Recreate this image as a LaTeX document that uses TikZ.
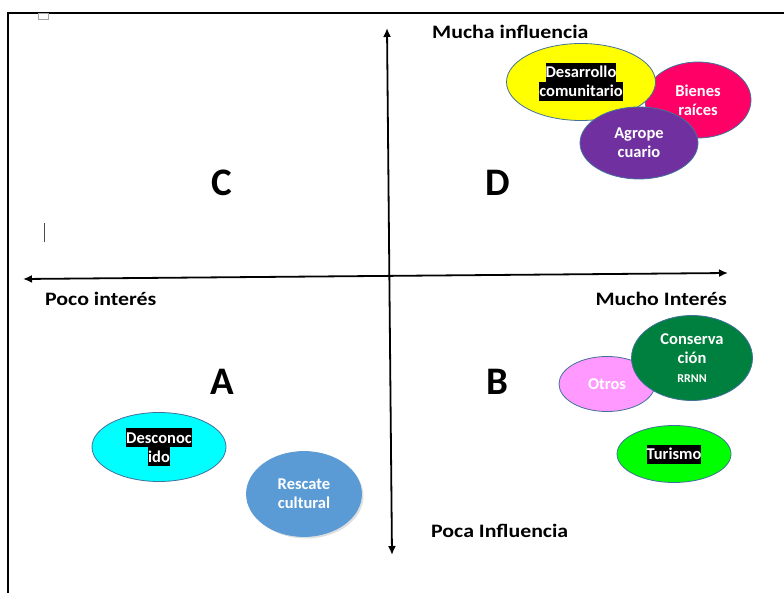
\documentclass[tikz,border=0pt]{standalone}
\usepackage{fontspec}
\setmainfont{Carlito}
\newfontfamily\ancha{Carlito}[FakeStretch=1.15]
\usetikzlibrary{arrows.meta,
                positioning,
                shadows,
                shapes.geometric
            }

\definecolor{borde}{HTML}{41719C}
\definecolor{amarillo}{HTML}{FFFF00}
\definecolor{fucsia}{HTML}{FF0066}
\definecolor{morado}{HTML}{7030A0}
\definecolor{rosa}{HTML}{FF99FF}
\definecolor{verdeosc}{HTML}{00803E}
\definecolor{verde}{HTML}{00FF00}
\definecolor{cian}{HTML}{00FFFF}
\definecolor{azul}{HTML}{5B9BD5}

\newcommand{\negro}[1]{{\setlength{\fboxsep}{0pt}\colorbox{black}{\rule[-4pt]{0pt}{19pt}#1}}}

\tikzset{
    actor/.style={ellipse, draw=borde, line width=0.8pt, inner sep=0pt,
                  text=white, align=center,
                  font=\fontsize{16.5}{19}\selectfont\bfseries},
    eje/.style={line width=1.8pt, {Latex[length=9pt,width=8pt]}-{Latex[length=9pt,width=8pt]}},
    eti/.style={font=\ancha\fontsize{19}{22}\selectfont\bfseries, inner sep=0pt},
    letra/.style={font=\fontsize{39}{40}\selectfont\bfseries, inner sep=0pt}
}

\begin{document}
\begin{tikzpicture}[x=1pt, y=-1pt]
            \useasboundingbox (0,0) rectangle (784,593);
            % marco
            \draw[line width=2pt] (8,593) -- (8,13) -- (784,13);
            \draw[gray!70, line width=0.8pt] (38,13) rectangle (48,19);
            \draw[black!70, line width=0.8pt] (44,223) -- (44,242);

            % ejes
            \coordinate (arriba) at (387,28);
            \coordinate (abajo) at (392,555);
            \coordinate (izq) at (23,279);
            \coordinate (der) at (728,273);
            \draw[eje] (abajo) -- (arriba);
            \draw[eje] (izq) -- (der);

            \node[eti, anchor=west] (mucha) at (432,32) {Mucha influencia};
            \node[eti, anchor=west] (poca) at (431,531) {Poca Influencia};
            \node[eti, anchor=west] (pocoint) at (45,299) {Poco interés};
            \node[eti, anchor=east] (muchoint) at (727,299) {Mucho Interés};

            \node[letra] (C) at (222,183) {C};
            \node[letra] (D) at (498,183) {D};
            \node[letra] (A) at (222,382) {A};
            \node[letra] (B) at (497,382) {B};

            % cuadrante D
            \node[actor, fill=fucsia, minimum width=106pt, minimum height=76pt] (bienes) at (698,100) {Bienes\\ raíces};
            \node[actor, fill=amarillo, minimum width=149pt, minimum height=77pt] (desarrollo) at (581,82) {\negro{Desarrollo}\\ \negro{comunitario}};
            \node[actor, fill=morado, minimum width=118pt, minimum height=72pt] (agro) at (639,143) {Agrope\\ cuario};

            % cuadrante B
            \node[actor, fill=rosa, minimum width=96pt, minimum height=55pt] (otros) at (607,384) {Otros};
            \node[actor, fill=verdeosc, minimum width=121pt, minimum height=85pt] (conserv) at (692,358) {Conserva\\ ción\\ {\fontsize{12}{14}\selectfont RRNN}};
            \node[actor, fill=verde, minimum width=114pt, minimum height=57pt] (turismo) at (674,454) {\negro{Turismo}};

            % cuadrante A
            \node[actor, fill=cian, minimum width=134pt, minimum height=69pt] (descon) at (159,447) {\negro{Desconoc}\\ \negro{ido}};
            \node[actor, fill=azul, draw=azul, minimum width=115pt, minimum height=85pt,
                  drop shadow={opacity=0.25, shadow xshift=2pt, shadow yshift=-2pt}] (rescate) at (304,494) {Rescate\\ cultural};
        \end{tikzpicture}
\end{document}
